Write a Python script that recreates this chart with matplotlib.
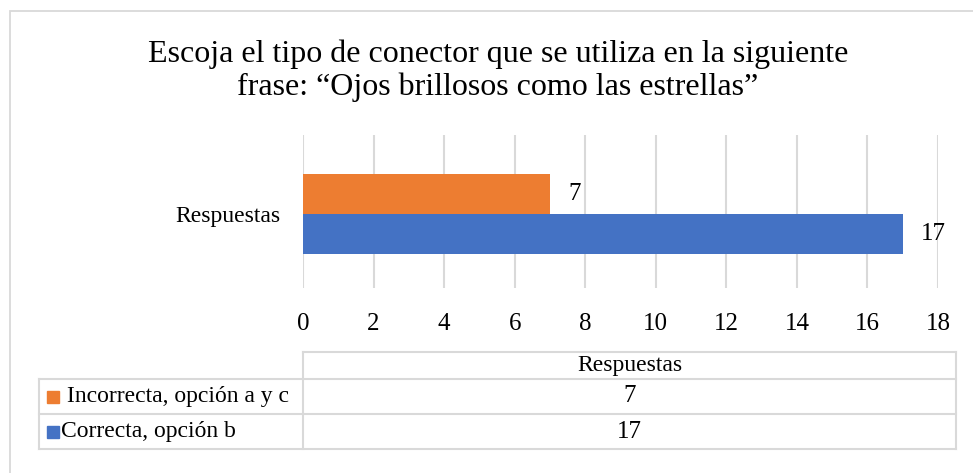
import matplotlib
matplotlib.use('Agg')
import matplotlib.pyplot as plt
from matplotlib.patches import Rectangle
from matplotlib.lines import Line2D

plt.rcParams['font.family'] = ['Liberation Serif', 'DejaVu Serif']

# data
title = 'Escoja el tipo de conector que se utiliza en la siguiente\nfrase: \u201cOjos brillosos como las estrellas\u201d'
category = 'Respuestas'
series = ['Incorrecta, opción a y c', 'Correcta, opción b']
values = [7, 17]
colors = ['#ED7D31', '#4472C4']
xticks = [0, 2, 4, 6, 8, 10, 12, 14, 16, 18]

W, H = 973, 473
fig = plt.figure(figsize=(W / 100, H / 100), dpi=100)

def fx(px):
    return px / W

def fy(py):
    return 1 - py / H

grey = '#D9D9D9'

# outer frame of the chart
fig.patches.append(Rectangle((fx(10), -0.1), 1.2, fy(11) + 0.1, transform=fig.transFigure,
                             fill=False, edgecolor=grey, linewidth=1.3))

fig.text(fx(498), fy(71), title, ha='center', va='center', fontsize=23, linespacing=1.17)

# plot area
ax = fig.add_axes([fx(303), fy(288), fx(938) - fx(303), fy(135) - fy(288)])
h = 0.4
ypos = [h / 2, -h / 2]
for v, y, c in zip(values, ypos, colors):
    ax.barh(y, v, height=h, color=c, zorder=2)
    ax.annotate(str(v), (v, y), xytext=(13, 0), textcoords='offset points',
                ha='left', va='center', fontsize=18)
ax.set_xlim(0, 18)
ax.set_ylim(-0.74, 0.79)
ax.set_xticks(xticks)
ax.set_yticks([0], [category])
ax.tick_params(axis='x', length=0, pad=18, labelsize=18)
ax.tick_params(axis='y', length=0, pad=16, labelsize=17)
ax.grid(axis='x', color=grey, linewidth=1.5, zorder=0)
for s in ax.spines.values():
    s.set_visible(False)

# data table
xl, xm, xr = 39, 303, 956
rows = [352, 379, 414, 449]
def hline(x0, x1, y):
    fig.add_artist(Line2D([fx(x0), fx(x1)], [fy(y), fy(y)], color=grey, linewidth=1.5))
def vline(x, y0, y1):
    fig.add_artist(Line2D([fx(x), fx(x)], [fy(y0), fy(y1)], color=grey, linewidth=1.5))

hline(xm, xr, rows[0])
for r in rows[1:]:
    hline(xl, xr, r)
vline(xm, rows[0], rows[3])
vline(xr, rows[0], rows[3])
vline(xl, rows[1], rows[3])

fig.text(fx((xm + xr) / 2), fy((rows[0] + rows[1]) / 2), category, ha='center', va='center', fontsize=17)
for i, (name, v, c) in enumerate(zip(series, values, colors)):
    yc = (rows[i + 1] + rows[i + 2]) / 2
    fig.patches.append(Rectangle((fx(47), fy(yc + 6)), fx(12), fy(0) - fy(12),
                                 transform=fig.transFigure, color=c))
    label = ' ' + name if i == 0 else name
    fig.text(fx(61), fy(yc), label, ha='left', va='center', fontsize=17)
    fig.text(fx((xm + xr) / 2), fy(yc), str(v), ha='center', va='center', fontsize=18)

fig.savefig('out.png', dpi=100)
